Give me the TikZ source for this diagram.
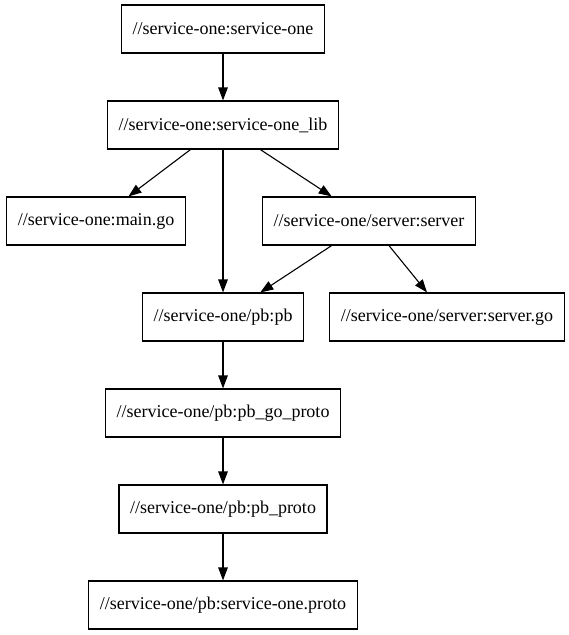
\documentclass[tikz,border=0pt]{standalone}
\usepackage{fontspec}
\setmainfont{Liberation Serif}
\usetikzlibrary{arrows.meta}

\begin{document}
\begin{tikzpicture}[x=1pt,y=-1pt,
  tgt/.style={draw,line width=1.1pt,minimum height=48pt,inner xsep=11pt,font=\fontsize{18}{22}\selectfont},
  dep/.style={-{Triangle[length=13pt,width=9.5pt]},line width=1.1pt}]
\useasboundingbox (0,0) rectangle (569,635);
\node[tgt] (bin) at (223,29) {//service-one:service-one};
\node[tgt] (lib) at (223,125) {//service-one:service-one\_lib};
\node[tgt] (maingo) at (96,221) {//service-one:main.go};
\node[tgt] (server) at (369,221) {//service-one/server:server};
\node[tgt] (pb) at (223,317) {//service-one/pb:pb};
\node[tgt] (servergo) at (447,317) {//service-one/server:server.go};
\node[tgt] (pbgo) at (223,413) {//service-one/pb:pb\_go\_proto};
\node[tgt] (pbproto) at (223,509) {//service-one/pb:pb\_proto};
\node[tgt] (protofile) at (223,605) {//service-one/pb:service-one.proto};
\draw[dep] (bin) -- (lib);
\draw[dep] (lib) -- (maingo);
\draw[dep] (lib) -- (server);
\draw[dep] (lib) -- (pb);
\draw[dep] (server) -- (pb);
\draw[dep] (server) -- (servergo);
\draw[dep] (pb) -- (pbgo);
\draw[dep] (pbgo) -- (pbproto);
\draw[dep] (pbproto) -- (protofile);
\end{tikzpicture}
\end{document}
